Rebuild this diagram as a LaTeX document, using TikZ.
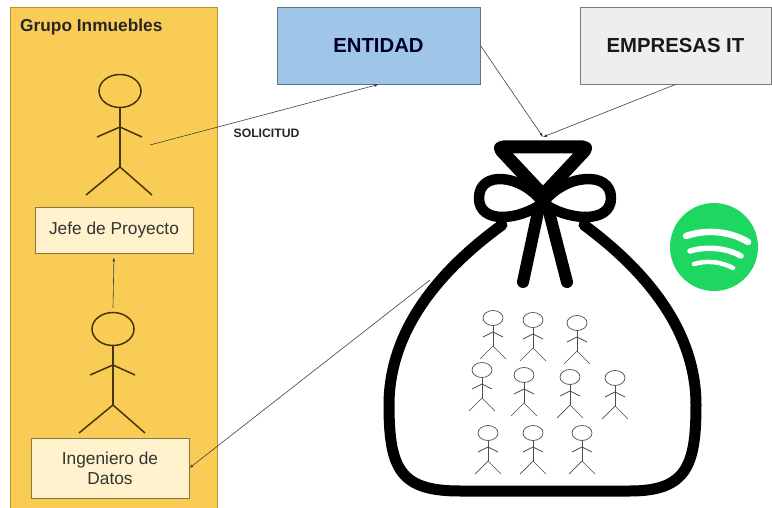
\documentclass[tikz,border=0pt]{standalone}
\usepackage{fontspec}
\setmainfont{Liberation Sans}
\usetikzlibrary{arrows.meta}

\definecolor{panelfill}{HTML}{F8CC55}
\definecolor{panelline}{HTML}{B8932A}
\definecolor{boxfill}{HTML}{FFF2CC}
\definecolor{boxline}{HTML}{8C7440}
\definecolor{figline}{HTML}{45360A}
\definecolor{entfill}{HTML}{9FC5E8}
\definecolor{entline}{HTML}{5F7488}
\definecolor{itfill}{HTML}{EEEEEE}
\definecolor{itline}{HTML}{7A7A7A}
\definecolor{spgreen}{HTML}{1ED760}

\tikzset{
  panel/.style={draw=panelline, fill=panelfill, line width=1, anchor=north west, inner sep=0},
  rolebox/.style={draw=boxline, fill=boxfill, line width=0.9, inner sep=0, align=center,
    font=\fontsize{17.3}{20}\selectfont, text=black!80},
  topbox/.style={line width=0.9, inner sep=0, font=\bfseries\fontsize{20.3}{24}\selectfont},
  link/.style={draw=black!75, line width=0.6, -{Latex[length=4pt,width=3pt]}},
  bagline/.style={draw=black, line width=11, line cap=round, line join=round},
  actor/.pic={
    \draw[figline, line width=1.5] (0,0) ellipse [x radius=21, y radius=16.5];
    \draw[figline, line width=1.5] (0,16.5) -- (0,76);
    \draw[figline, line width=1.5] (-23,46) -- (0,36) -- (22,46);
    \draw[figline, line width=1.5] (-34,104) -- (0,76) -- (32,104);
  },
  person/.pic={
    \draw[black!70, line width=0.7] (0,0) ellipse [x radius=10, y radius=7.5];
    \draw[black!70, line width=0.7] (0,7.5) -- (0,28);
    \draw[black!70, line width=0.7] (-10,19) -- (0,14) -- (10,19);
    \draw[black!70, line width=0.7] (-13,41) -- (0,28) -- (13,41);
  }
}

\begin{document}
\begin{tikzpicture}[x=1pt, y=-1pt]
\useasboundingbox (0,0) rectangle (772,508);
\fill[white] (0,0) rectangle (772,508);

% team panel
\node[panel, minimum width=207, minimum height=505] (grupo) at (10,7) {};
\node[anchor=west, inner sep=0, font=\bfseries\fontsize{17.3}{20}\selectfont, text=black!85] (titulo) at (20,27) {Grupo Inmuebles};

% people of the team
\pic at (120,91) {actor};
\pic at (113,329) {actor};
\node[rolebox, minimum width=158, minimum height=46] (jefe) at (114,230) {Jefe de Proyecto};
\node[rolebox, minimum width=158, minimum height=60] (ing) at (110,468) {Ingeniero de\\Datos};

% top boxes
\node[topbox, draw=entline, fill=entfill, text=black!85!blue, minimum width=203, minimum height=77] (entidad) at (378.5,45.5) {ENTIDAD};
\node[topbox, draw=itline, fill=itfill, text=black!90, minimum width=191, minimum height=77] (empresas) at (675.5,45.5) {EMPRESAS IT};

\node[inner sep=0, font=\bfseries\fontsize{12.2}{14}\selectfont, text=black!85] (sol) at (266.5,133) {SOLICITUD};

% bag: knot, loops, ribbons, body
\draw[bagline, line width=13, rounded corners=5] (498,147) -- (588,147) -- (543,195) -- cycle;
\draw[bagline, line width=10.5] (543,203) .. controls (522,174) and (479,170) .. (479,198)
      .. controls (479,224) and (518,221) .. (543,203);
\draw[bagline, line width=10.5] (543,203) .. controls (564,174) and (611,170) .. (611,198)
      .. controls (611,224) and (568,221) .. (543,203);
\draw[bagline, line width=12] (538,212) -- (523,282);
\draw[bagline, line width=12] (549,212) -- (567,282);
\draw[bagline] (502,225) .. controls (440,270) and (389,330) .. (389,405)
      .. controls (389,470) and (401,491) .. (460,491) -- (630,491)
      .. controls (687,491) and (696,465) .. (696,405)
      .. controls (696,330) and (645,270) .. (584,225);

% people inside the bag
\foreach \px/\py in {493/318, 533/320, 577/323, 482/370, 524/375, 570/377, 615/378, 488/433, 533/433, 582/433}
  \pic at (\px,\py) {person};

% logo
\fill[spgreen] (714,247) circle [radius=44];
\draw[white, line width=6.5, line cap=round] (686,236) .. controls (706,229) and (730,231) .. (748,242);
\draw[white, line width=5.5, line cap=round] (690,251) .. controls (707,246) and (727,248) .. (741,256);
\draw[white, line width=4.5, line cap=round] (694,264) .. controls (707,260) and (722,262) .. (733,268);

% connector anchors
\coordinate (jefehand) at (150,145);
\coordinate (inghead) at (113,308);
\coordinate (bagtop) at (543,137);
\coordinate (bagside) at (430,280);

% connectors
\draw[link] (jefehand) -- (entidad.south);
\draw[link] (entidad.east) -- (bagtop);
\draw[link] (empresas.south) -- (bagtop);
\draw[link, shorten >=4pt] (inghead) -- (jefe.south);
\draw[link] (bagside) -- (ing.east);
\end{tikzpicture}
\end{document}
